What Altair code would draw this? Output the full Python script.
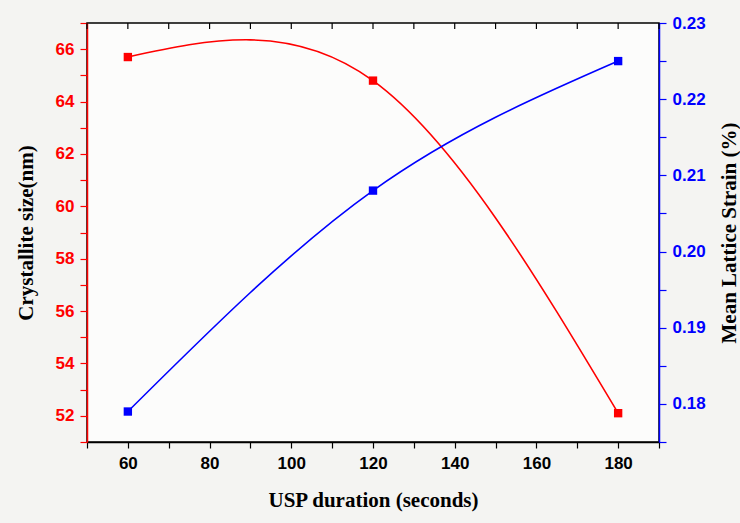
import altair as alt
import pandas as pd

duration = [60, 120, 180]
crystallite_size = [65.7, 64.8, 52.1]
lattice_strain = [0.179, 0.208, 0.225]
top_ticks = [50, 60, 70, 80, 90, 100, 110, 120, 130, 140, 150, 160, 170, 180, 190]

df = pd.DataFrame({"x": duration, "size": crystallite_size, "strain": lattice_strain})
df_ticks = pd.DataFrame({"x": top_ticks})

XDOM = [50, 190]
LFS = 17
TFS = 21
x_axis = alt.Axis(
    title="USP duration (seconds)",
    values=top_ticks,
    labelExpr="datum.value % 20 == 0 ? datum.label : ''",
    grid=False, domainColor="black", domainWidth=1.5, tickColor="black",
    tickWidth=1.2, tickSize=6, labelColor="black", labelFont="Liberation Sans",
    labelFontWeight="bold", labelFontSize=LFS, labelPadding=7,
    titleFont="Liberation Serif", titleFontWeight="bold", titleFontSize=TFS,
    titleColor="black", titlePadding=18, labelOverlap=False,
)
x_enc = alt.X("x:Q", scale=alt.Scale(domain=XDOM, nice=False, zero=False), axis=x_axis)

left_axis = alt.Axis(
    title="Crystallite size(nm)", orient="left",
    values=list(range(51, 68)),
    labelExpr="datum.value % 2 == 0 ? datum.label : ''",
    grid=False, domainColor="red", domainWidth=1.5, tickColor="red", tickWidth=1.2,
    tickSize=7, labelColor="red", labelFont="Liberation Sans", labelFontWeight="bold",
    labelFontSize=LFS, labelPadding=6, titleFont="Liberation Serif", titleFontWeight="bold",
    titleFontSize=TFS, titleColor="black", titlePadding=19, labelOverlap=False,
)
right_vals = [0.175, 0.18, 0.185, 0.19, 0.195, 0.2, 0.205, 0.21, 0.215, 0.22, 0.225, 0.23]
right_axis = alt.Axis(
    title="Mean Lattice Strain (%)", orient="right",
    values=right_vals,
    labelExpr="round(datum.value*1000) % 10 == 0 ? format(datum.value, '.2f') : ''",
    grid=False, domainColor="blue", domainWidth=1.5, tickColor="blue", tickWidth=1.2,
    tickSize=7, labelColor="blue", labelFont="Liberation Sans", labelFontWeight="bold",
    labelFontSize=LFS, labelPadding=6, titleFont="Liberation Serif", titleFontWeight="bold",
    titleFontSize=TFS, titleColor="black", titlePadding=34, titleAngle=270,
    labelOverlap=False,
)

base = alt.Chart(df)

red_y = alt.Y("size:Q", scale=alt.Scale(domain=[51, 67], nice=False, zero=False), axis=left_axis)
red_line = base.mark_line(color="red", strokeWidth=1.6, interpolate="natural").encode(x=x_enc, y=red_y)
red_pts = base.mark_square(color="red", size=70, opacity=1).encode(x=x_enc, y=red_y)

blue_y = alt.Y("strain:Q", scale=alt.Scale(domain=[0.175, 0.23], nice=False, zero=False), axis=right_axis)
blue_line = base.mark_line(color="blue", strokeWidth=1.6, interpolate="natural").encode(x=x_enc, y=blue_y)
blue_pts = base.mark_square(color="blue", size=70, opacity=1).encode(x=x_enc, y=blue_y)

top_tick_marks = alt.Chart(df_ticks).mark_rule(color="black", strokeWidth=1.2).encode(
    x=x_enc, y=alt.value(0), y2=alt.value(6),
)

left_layer = alt.layer(red_line, red_pts, top_tick_marks)
right_layer = alt.layer(blue_line, blue_pts)

chart = alt.layer(left_layer, right_layer).resolve_scale(y="independent").properties(
    width=572, height=419,
    padding={"left": 87, "top": 23, "right": 81, "bottom": 81},
    autosize=alt.AutoSizeParams(type="none"),
    background="#f4f4f2",
).configure_view(stroke="black", strokeWidth=1.5, fill="#fcfcfb")

chart.save("out.html", embed_options={"renderer": "svg", "actions": False})
